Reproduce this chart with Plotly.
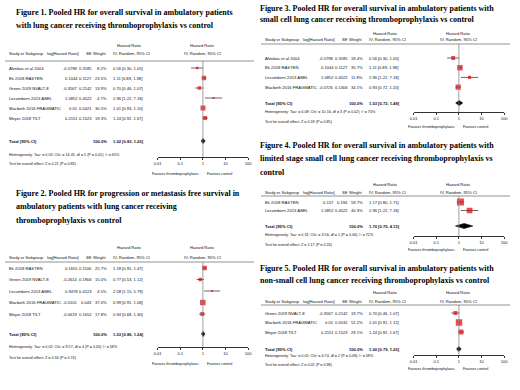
import plotly.graph_objects as go
import math

W, H = 520, 390

# ---------------- DATA ----------------
p1_titles = ["Figure 1. Pooled HR for overall survival in ambulatory patients",
             "with lung cancer receiving thromboprophylaxis vs control"]
p1_studies = ["Altinbas et al 2004", "Ek 2018 RASTEN", "Green 2019 NVALT-8",
              "Lecumberri 2013 ABEL", "Macbeth 2016 FRAGMATIC", "Meyer 2018 TILT"]
p1_loghr = [-0.5798, 0.1044, -0.3567, 1.0852, 0.01, 0.2151]
p1_se = [0.3185, 0.1127, 0.2142, 0.4522, 0.0421, 0.1523]
p1_weight = [8.2, 23.5, 13.9, 4.7, 30.5, 19.3]
p1_hr = [0.56, 1.11, 0.70, 2.96, 1.01, 1.24]
p1_lo = [0.30, 0.89, 0.46, 1.22, 0.93, 0.92]
p1_hi = [1.05, 1.38, 1.07, 7.18, 1.10, 1.67]
p1_total = [1.02, 0.83, 1.26]
p1_het = "Heterogeneity: Tau² = 0.03; Chi² = 14.45, df = 5 (P = 0.01); I² = 65%"
p1_test = "Test for overall effect: Z = 0.21 (P = 0.83)"

p2_titles = ["Figure 2. Pooled HR for progression or metastasis free survival in",
             "ambulatory patients with lung cancer receiving",
             "thromboprophylaxis vs control"]
p2_studies = ["Ek 2018 RASTEN", "Green 2019 NVALT-8", "Lecumberri 2013 ABEL",
              "Macbeth 2016 FRAGMATIC", "Meyer 2018 TILT"]
p2_loghr = [0.1655, -0.2614, 0.9478, -0.0101, -0.0619]
p2_se = [0.1106, 0.1906, 0.4123, 0.043, 0.1652]
p2_weight = [25.7, 15.0, 4.5, 37.0, 17.8]
p2_hr = [1.18, 0.77, 2.58, 0.99, 0.94]
p2_lo = [0.95, 0.53, 1.15, 0.91, 0.68]
p2_hi = [1.47, 1.12, 5.79, 1.08, 1.30]
p2_total = [1.03, 0.86, 1.24]
p2_het = "Heterogeneity: Tau² = 0.02; Chi² = 9.57, df = 4 (P = 0.05); I² = 58%"
p2_test = "Test for overall effect: Z = 0.34 (P = 0.74)"

p3_titles = ["Figure 3. Pooled HR for overall survival in ambulatory patients with",
             "small cell lung cancer receiving thromboprophylaxis vs control"]
p3_studies = ["Altinbas et al 2004", "Ek 2018 RASTEN", "Lecumberri 2013 ABEL",
              "Macbeth 2016 FRAGMATIC"]
p3_loghr = [-0.5798, 0.1044, 1.0852, -0.0726]
p3_se = [0.3185, 0.1127, 0.4522, 0.1306]
p3_weight = [18.4, 35.7, 11.8, 34.1]
p3_hr = [0.56, 1.11, 2.96, 0.93]
p3_lo = [0.30, 0.89, 1.22, 0.72]
p3_hi = [1.05, 1.38, 7.18, 1.20]
p3_total = [1.03, 0.72, 1.48]
p3_het = "Heterogeneity: Tau² = 0.08; Chi² = 10.16, df = 3 (P = 0.02); I² = 70%"
p3_test = "Test for overall effect: Z = 0.18 (P = 0.85)"

p4_titles = ["Figure 4. Pooled HR for overall survival in ambulatory patients with",
             "limited stage small cell lung cancer receiving thromboprophylaxis vs",
             "control"]
p4_studies = ["Ek 2018 RASTEN", "Lecumberri 2013 ABEL"]
p4_loghr = [0.157, 1.0852]
p4_se = [0.194, 0.4522]
p4_weight = [59.7, 40.3]
p4_hr = [1.17, 2.96]
p4_lo = [0.80, 1.22]
p4_hi = [1.71, 7.18]
p4_total = [1.70, 0.70, 4.15]
p4_het = "Heterogeneity: Tau² = 0.31; Chi² = 3.56, df = 1 (P = 0.06); I² = 72%"
p4_test = "Test for overall effect: Z = 1.17 (P = 0.24)"

p5_titles = ["Figure 5. Pooled HR for overall survival in ambulatory patients with",
             "non-small cell lung cancer receiving thromboprophylaxis vs control"]
p5_studies = ["Green 2019 NVALT-8", "Macbeth 2016 FRAGMATIC", "Meyer 2018 TILT"]
p5_loghr = [-0.3567, 0.01, 0.2151]
p5_se = [0.2142, 0.0532, 0.1523]
p5_weight = [19.7, 51.2, 29.1]
p5_hr = [0.70, 1.01, 1.24]
p5_lo = [0.46, 0.91, 0.92]
p5_hi = [1.07, 1.12, 1.67]
p5_total = [1.00, 0.79, 1.26]
p5_het = "Heterogeneity: Tau² = 0.02; Chi² = 4.74, df = 2 (P = 0.09); I² = 58%"
p5_test = "Test for overall effect: Z = 0.02 (P = 0.98)"

tick_vals = [0.01, 0.1, 1, 10, 100]
tick_text = ["0.01", "0.1", "1", "10", "100"]

# ---------------- LAYOUT (pixel positions) ----------------
panels = [
    dict(titles=p1_titles, studies=p1_studies, loghr=p1_loghr, se=p1_se, weight=p1_weight,
         hr=p1_hr, lo=p1_lo, hi=p1_hi, total=p1_total, het=p1_het, test=p1_test,
         ox=0, tx=10, ty=[12.5, 25.5], hdr1=45, hdr2=54, hline=61, y0=68, s=10, ytot=141,
         axis=157, hety=155, testy=164, fav=174),
    dict(titles=p2_titles, studies=p2_studies, loghr=p2_loghr, se=p2_se, weight=p2_weight,
         hr=p2_hr, lo=p2_lo, hi=p2_hi, total=p2_total, het=p2_het, test=p2_test,
         ox=0, tx=10, ty=[193, 206.5, 220], hdr1=247, hdr2=257, hline=262, y0=268, s=11.5, ytot=334,
         axis=347, hety=347, testy=358, fav=364),
    dict(titles=p3_titles, studies=p3_studies, loghr=p3_loghr, se=p3_se, weight=p3_weight,
         hr=p3_hr, lo=p3_lo, hi=p3_hi, total=p3_total, het=p3_het, test=p3_test,
         ox=260, tx=258, ty=[8, 19.5], hdr1=33, hdr2=39.5, hline=44, y0=58, s=9.7, ytot=103,
         axis=112, hety=112, testy=122, fav=127),
    dict(titles=p4_titles, studies=p4_studies, loghr=p4_loghr, se=p4_se, weight=p4_weight,
         hr=p4_hr, lo=p4_lo, hi=p4_hi, total=p4_total, het=p4_het, test=p4_test,
         ox=260, tx=258, ty=[145, 158, 172], hdr1=184, hdr2=192, hline=196, y0=202, s=8.5, ytot=226,
         axis=236, hety=235, testy=245, fav=250),
    dict(titles=p5_titles, studies=p5_studies, loghr=p5_loghr, se=p5_se, weight=p5_weight,
         hr=p5_hr, lo=p5_lo, hi=p5_hi, total=p5_total, het=p5_het, test=p5_test,
         ox=260, tx=258, ty=[268, 280], hdr1=292, hdr2=301, hline=305, y0=313, s=9.5, ytot=349,
         axis=355, hety=356, testy=365, fav=369),
]

SANS = "Liberation Sans Narrow, Arial Narrow, Liberation Sans, Arial, sans-serif"
TITLE_FONT = dict(family="Liberation Serif, Times New Roman, serif", size=8.0, color="#000000")
TAB_FONT = dict(family=SANS, size=4.1, color="#111")
NAME_FONT = dict(family=SANS, size=4.2, color="#111")
FOOT_FONT = dict(family=SANS, size=3.7, color="#111")


def px(x):
    return x / W


def py(y):
    return 1 - y / H


fig = go.Figure()
annotations = []
shapes = []
layout_axes = {}

for k, p in enumerate(panels, start=1):
    sx = "" if k == 1 else str(k)
    xname, yname = "x" + sx, "y" + sx
    ox = p["ox"]
    n = len(p["studies"])
    s = p["s"]
    tot_idx = (p["ytot"] - p["y0"]) / s

    # axes
    layout_axes["xaxis" + sx] = dict(
        type="log", range=[-2, 2], domain=[px(ox + 156), px(ox + 248)],
        anchor=yname, tickvals=tick_vals, ticktext=tick_text,
        showline=True, linecolor="#333", linewidth=0.8, ticks="outside", ticklen=2,
        tickwidth=0.8, tickcolor="#333", tickfont=dict(TAB_FONT, size=4.0),
        showgrid=False, zeroline=False, fixedrange=True,
    )
    layout_axes["yaxis" + sx] = dict(
        domain=[py(p["axis"]), py(p["hline"])],
        range=[(p["axis"] - p["y0"]) / s, (p["hline"] - p["y0"]) / s],
        anchor=xname, visible=False, fixedrange=True,
    )

    # null line at HR = 1
    shapes.append(dict(type="line", xref=xname, yref=yname + " domain", x0=1, x1=1, y0=0, y1=1,
                       line=dict(color="#888", width=0.8)))
    # header rule
    shapes.append(dict(type="line", xref="paper", yref="paper", x0=px(ox + 1), x1=px(ox + 254),
                       y0=py(p["hline"]), y1=py(p["hline"]), line=dict(color="#777", width=0.8)))

    # CI lines
    cx, cy = [], []
    for i in range(n):
        cx += [p["lo"][i], p["hi"][i], None]
        cy += [i, i, None]
    fig.add_trace(go.Scatter(x=cx, y=cy, mode="lines", xaxis=xname, yaxis=yname,
                             line=dict(color="#444", width=0.8), hoverinfo="skip", showlegend=False))
    # study squares
    fig.add_trace(go.Scatter(x=p["hr"], y=list(range(n)), mode="markers", xaxis=xname, yaxis=yname,
                             marker=dict(symbol="square", color="#e00000",
                                         size=[0.9 * math.sqrt(w) for w in p["weight"]],
                                         line=dict(width=0)),
                             showlegend=False))
    # total diamond
    t_hr, t_lo, t_hi = p["total"]
    hh = 2.6 / s
    fig.add_trace(go.Scatter(x=[t_lo, t_hr, t_hi, t_hr, t_lo],
                             y=[tot_idx, tot_idx - hh, tot_idx, tot_idx + hh, tot_idx],
                             mode="lines", fill="toself", fillcolor="black",
                             line=dict(color="black", width=0.5), xaxis=xname, yaxis=yname,
                             showlegend=False, hoverinfo="skip"))

    # titles
    for line, ty in zip(p["titles"], p["ty"]):
        annotations.append(dict(text="<b>" + line + "</b>", x=px(p["tx"]), y=py(ty), xref="paper",
                                yref="paper", xanchor="left", yanchor="middle", showarrow=False,
                                font=TITLE_FONT))

    def tab(text, x, y, anchor="left", font=TAB_FONT, yref="paper"):
        annotations.append(dict(text=text, x=px(x), y=y, xref="paper", yref=yref,
                                xanchor=anchor, yanchor="middle", showarrow=False, font=font))

    # headers
    tab("Hazard Ratio", ox + 127, py(p["hdr1"]), "center")
    tab("Hazard Ratio", ox + 202, py(p["hdr1"]), "center")
    tab("Study or Subgroup", ox + 3, py(p["hdr2"]))
    tab("log[Hazard Ratio]", ox + 78, py(p["hdr2"]), "right")
    tab("SE", ox + 91, py(p["hdr2"]), "right")
    tab("Weight", ox + 107, py(p["hdr2"]), "right")
    tab("IV, Random, 95% CI", ox + 109, py(p["hdr2"]), "left")
    tab("IV, Random, 95% CI", ox + 202, py(p["hdr2"]), "center")

    # rows
    for i in range(n):
        tab(p["studies"][i], ox + 3, i, font=NAME_FONT, yref=yname)
        tab(str(p["loghr"][i]), ox + 77, i, "right", yref=yname)
        tab(str(p["se"][i]), ox + 91, i, "right", yref=yname)
        tab(f"{p['weight'][i]:.1f}%", ox + 107, i, "right", yref=yname)
        tab(f"{p['hr'][i]:.2f} [{p['lo'][i]:.2f}, {p['hi'][i]:.2f}]", ox + 109, i, yref=yname)
    tab("<b>Total (95% CI)</b>", ox + 3, tot_idx, font=NAME_FONT, yref=yname)
    tab("<b>100.0%</b>", ox + 107, tot_idx, "right", yref=yname)
    tab(f"<b>{t_hr:.2f} [{t_lo:.2f}, {t_hi:.2f}]</b>", ox + 109, tot_idx, yref=yname)
    tab(p["het"], ox + 3, py(p["hety"]), font=FOOT_FONT)
    tab(p["test"], ox + 3, py(p["testy"]), font=FOOT_FONT)
    tab("Favours thromboprophylaxis", ox + 200, py(p["fav"]), "right", font=FOOT_FONT)
    tab("Favours control", ox + 204, py(p["fav"]), font=FOOT_FONT)

fig.update_layout(
    width=W, height=H, margin=dict(l=0, r=0, t=0, b=0),
    paper_bgcolor="white", plot_bgcolor="white", showlegend=False,
    annotations=annotations, shapes=shapes, **layout_axes,
)

fig.write_html("out.html", config={"displayModeBar": False},
               post_script="document.body.style.margin='0';")
